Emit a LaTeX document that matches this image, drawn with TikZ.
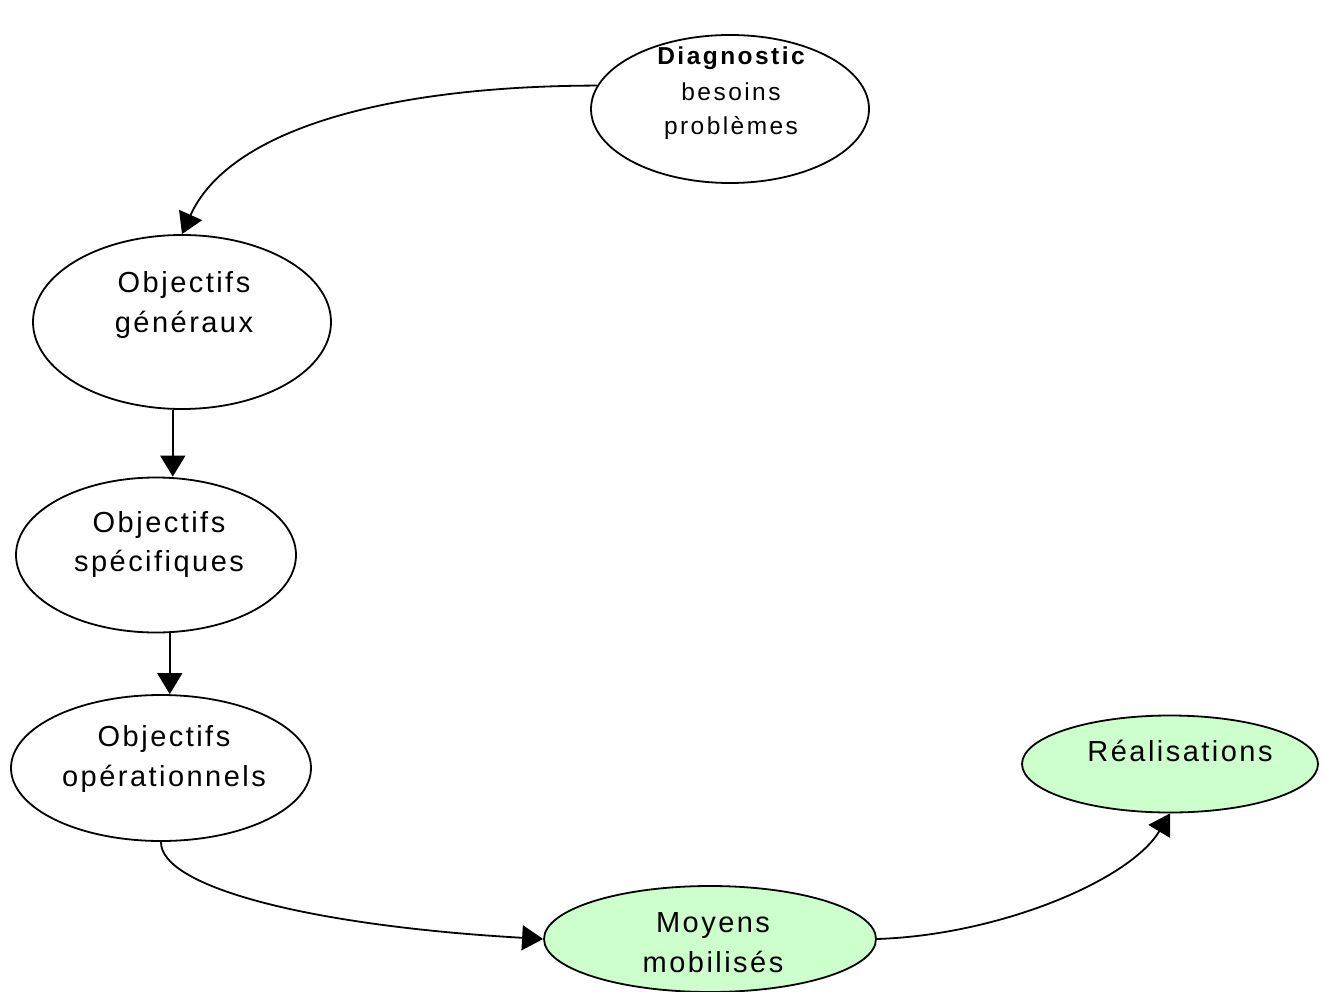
\documentclass[tikz,border=0pt]{standalone}
\usepackage{fontspec}
\setmainfont{Liberation Sans}
\newfontfamily\spacedbig[LetterSpace=8.5]{Liberation Sans}
\newfontfamily\spacedsmall[LetterSpace=10]{Liberation Sans}
\usetikzlibrary{shapes.geometric,arrows.meta,calc}
\definecolor{mint}{RGB}{204,255,204}

\begin{document}
\begin{tikzpicture}[x=1pt,y=-1pt,
  bubble/.style={ellipse,draw,line width=1.8pt,inner sep=0pt,fill=white},
  mintfill/.style={fill=mint},
  bigtxt/.style={anchor=base,inner sep=0pt,font=\spacedbig\fontsize{29}{35}\selectfont},
  smalltxt/.style={anchor=base,inner sep=0pt,font=\spacedsmall\fontsize{24.5}{30}\selectfont},
  arr/.style={line width=1.8pt,-{Triangle[length=21pt,width=25pt]}}]

\useasboundingbox[fill=white] (0,0) rectangle (1324,992);

% ellipses
\node[bubble,minimum width=278pt,minimum height=148pt] (diag) at (730,109) {};
\node[bubble,minimum width=298pt,minimum height=174pt] (gen)  at (182,322) {};
\node[bubble,minimum width=280pt,minimum height=155pt] (spec) at (156,555) {};
\node[bubble,minimum width=300pt,minimum height=146pt] (oper) at (161,768) {};
\node[bubble,mintfill,minimum width=332pt,minimum height=106pt] (moy)  at (710,939) {};
\node[bubble,mintfill,minimum width=296pt,minimum height=97pt]  (real) at (1170,764) {};

% labels
\node[smalltxt] (diag-a) at (731,65)  {\bfseries Diagnostic};
\node[smalltxt] (diag-b) at (731,101) {besoins};
\node[smalltxt] (diag-c) at (731,135) {problèmes};

\node[bigtxt] (gen-a) at (184,292) {Objectifs};
\node[bigtxt] (gen-b) at (184,332) {généraux};

\node[bigtxt] (spec-a) at (159,532) {Objectifs};
\node[bigtxt] (spec-b) at (159,571) {spécifiques};

\node[bigtxt] (oper-a) at (164,746) {Objectifs};
\node[bigtxt] (oper-b) at (164,786) {opérationnels};

\node[bigtxt] (moy-a) at (713,932) {Moyens};
\node[bigtxt] (moy-b) at (713,972) {mobilisés};

\node[bigtxt] (real-a) at (1180,761) {Réalisations};

% connectors
\draw[arr] (diag.170) .. controls (380,86) and (228,132) .. (gen.north);
\draw[arr] (gen.264) -- (gen.264 |- spec.north);
\draw[arr] (spec.280) -- (spec.280 |- oper.north);
\draw[arr] (oper.south) .. controls (160,885) and (300,925) .. (moy.west);
\draw[arr] (moy.east) .. controls (1000,935) and (1130,880) .. (real.south);
\end{tikzpicture}
\end{document}
